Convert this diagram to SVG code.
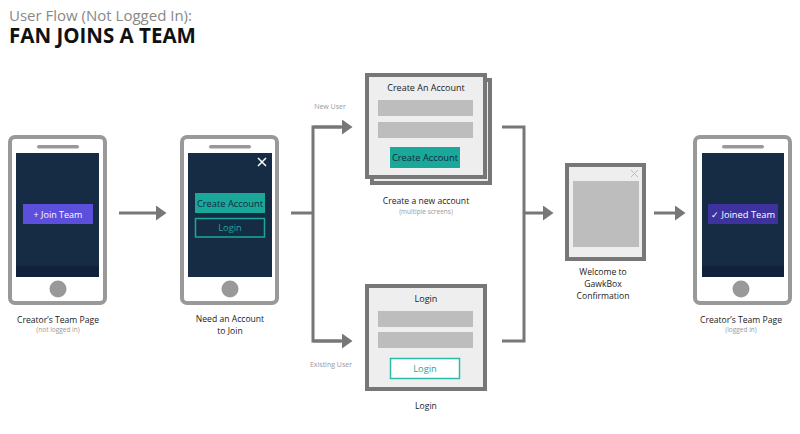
<svg xmlns="http://www.w3.org/2000/svg" width="800" height="434" viewBox="0 0 800 434">
<style>
text{font-family:"Open Sans","Noto Sans","Liberation Sans",sans-serif}
.phone{fill:#fff;stroke:#999;stroke-width:4}
.spk{fill:#999}
.screen{fill:#162c45}
.band{fill:#10223a}
.home{fill:#999}
.card{fill:#eee;stroke:#777;stroke-width:4}
.bar{fill:#bdbdbd}
.lbl{font-size:8.6px;fill:#222;text-anchor:middle}
.sub{font-size:6.5px;fill:#999;text-anchor:middle}
.side{font-size:7px;fill:#999;text-anchor:middle}
.conn{fill:none;stroke:#777;stroke-width:3}
</style>
<defs>
<marker id="ah" markerWidth="4" markerHeight="5" refX="0" refY="2.5" orient="auto" markerUnits="strokeWidth">
<path d="M0,0 L3.5,2.5 L0,5 Z" fill="#777"/>
</marker>
</defs>
<g id="title">
<text x="9" y="21" font-size="15" fill="#888">User Flow (Not Logged In):</text>
<text x="9" y="43" font-size="20.5" font-weight="bold" fill="#111">FAN JOINS A TEAM</text>
</g>
<g id="connectors">
<line class="conn" x1="119" y1="213" x2="156" y2="213" marker-end="url(#ah)"/>
<polyline class="conn" points="291,213 313,213"/>
<polyline class="conn" points="341,127 313,127 313,341 341,341"/>
<line class="conn" x1="313" y1="127" x2="342" y2="127" marker-end="url(#ah)"/>
<line class="conn" x1="313" y1="341" x2="342" y2="341" marker-end="url(#ah)"/>
<polyline class="conn" points="502,127 524,127 524,341 502,341"/>
<line class="conn" x1="524" y1="213" x2="543" y2="213" marker-end="url(#ah)"/>
<line class="conn" x1="654" y1="213" x2="675" y2="213" marker-end="url(#ah)"/>
<text class="side" x="330" y="109">New User</text>
<text class="side" x="331" y="367">Existing User</text>
</g>
<g id="phone1">
<rect class="phone" x="10" y="137" width="95" height="166" rx="5"/>
<rect class="spk" x="37" y="145" width="42" height="3.5" rx="1.75"/>
<rect class="screen" x="16" y="153" width="83" height="124"/>
<rect class="band" x="16" y="266" width="83" height="11"/>
<circle class="home" cx="58" cy="289" r="8.5"/>
<rect x="23" y="204" width="70" height="20" fill="#5b4fdc"/>
<text x="58" y="217.5" font-size="9" fill="#fff" text-anchor="middle">+ Join Team</text>
<text class="lbl" x="58" y="323">Creator’s Team Page</text>
<text class="sub" x="58" y="332">(not logged in)</text>
</g>
<g id="phone2">
<rect class="phone" x="182" y="137" width="95" height="166" rx="5"/>
<rect class="spk" x="209" y="145" width="42" height="3.5" rx="1.75"/>
<rect class="screen" x="188" y="153" width="84" height="124"/>
<path d="M258,158 L266,166 M266,158 L258,166" stroke="#fff" stroke-width="1.5"/>
<circle class="home" cx="230" cy="289" r="8.5"/>
<rect x="195" y="193" width="70" height="20" fill="#1aa89a"/>
<text x="230" y="206.5" font-size="9.3" fill="#0f2a3f" text-anchor="middle">Create Account</text>
<rect x="195.5" y="218.5" width="69" height="18.5" fill="none" stroke="#1aa89a" stroke-width="1.5"/>
<text x="230" y="231" font-size="9.3" fill="#1aa89a" text-anchor="middle">Login</text>
<text class="lbl" x="230" y="322">Need an Account</text>
<text class="lbl" x="230" y="334">to Join</text>
</g>
<g id="create-account">
<rect class="card" x="372" y="80" width="118" height="103"/>
<rect class="card" x="367" y="75" width="118" height="102"/>
<text x="426" y="91" font-size="9" fill="#222" text-anchor="middle">Create An Account</text>
<rect class="bar" x="378" y="100" width="95" height="16"/>
<rect class="bar" x="378" y="122" width="95" height="16"/>
<rect x="390" y="147" width="70" height="21" fill="#1aa89a"/>
<text x="425" y="160.5" font-size="9.3" fill="#0f2a3f" text-anchor="middle">Create Account</text>
<text class="lbl" x="426" y="204">Create a new account</text>
<text class="sub" x="426" y="214">(multiple screens)</text>
</g>
<g id="login">
<rect class="card" x="367" y="286" width="118" height="103"/>
<text x="426" y="302" font-size="9" fill="#222" text-anchor="middle">Login</text>
<rect class="bar" x="378" y="311" width="95" height="16"/>
<rect class="bar" x="378" y="332" width="95" height="16"/>
<rect x="390.5" y="358.5" width="69" height="20" fill="#fff" stroke="#2dbcaa" stroke-width="1.5"/>
<text x="425" y="372" font-size="9.3" fill="#1aa89a" text-anchor="middle">Login</text>
<text class="lbl" x="426" y="409">Login</text>
</g>
<g id="welcome">
<rect class="card" x="567" y="165" width="77" height="94"/>
<rect class="bar" x="573" y="181" width="66" height="66"/>
<path d="M631,170 L638,177 M638,170 L631,177" stroke="#bbb" stroke-width="1"/>
<text class="lbl" x="603" y="275">Welcome to</text>
<text class="lbl" x="603" y="287">GawkBox</text>
<text class="lbl" x="603" y="299">Confirmation</text>
</g>
<g id="phone3">
<rect class="phone" x="695" y="137" width="95" height="166" rx="5"/>
<rect class="spk" x="722" y="145" width="42" height="3.5" rx="1.75"/>
<rect class="screen" x="702" y="153" width="82" height="124"/>
<rect class="band" x="702" y="266" width="82" height="11"/>
<circle class="home" cx="741" cy="289" r="8.5"/>
<rect x="708" y="204" width="70" height="20" fill="#3e339e"/>
<text x="743" y="217.5" font-size="9.3" fill="#fff" text-anchor="middle">✓ Joined Team</text>
<text class="lbl" x="741" y="323">Creator’s Team Page</text>
<text class="sub" x="741" y="332">(logged in)</text>
</g>
</svg>
